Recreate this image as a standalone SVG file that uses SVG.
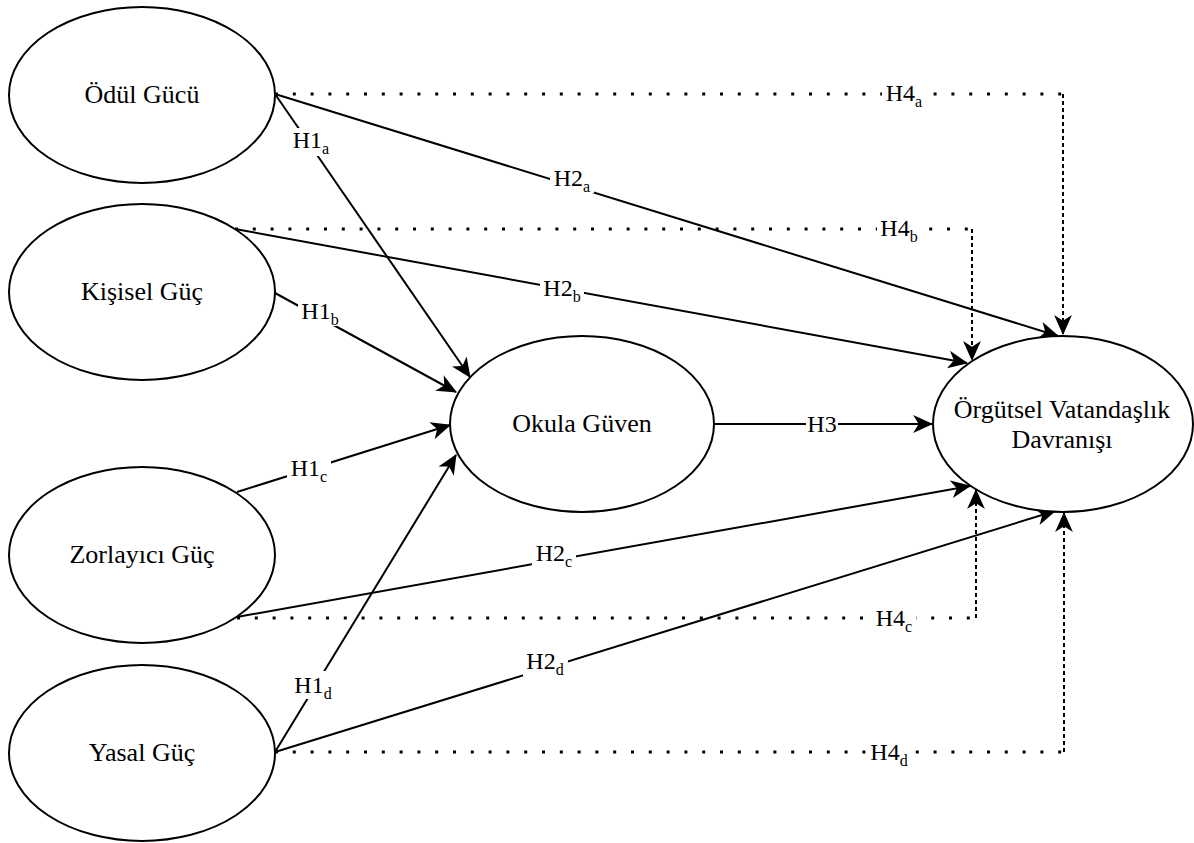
<svg xmlns="http://www.w3.org/2000/svg" width="1194" height="843" viewBox="0 0 1194 843">
<defs>
<style>
.node ellipse{fill:#fff;stroke:#000;stroke-width:2}
.node text{font-family:"Liberation Serif","Times New Roman",serif;font-size:26px;fill:#000;text-anchor:middle}
.solid{fill:none;stroke:#000;stroke-width:2;marker-end:url(#arr)}
.dot{fill:none;stroke:#000;stroke-width:3;stroke-dasharray:3 14.8}
.dash{fill:none;stroke:#000;stroke-width:2;stroke-dasharray:4 3;marker-end:url(#arr)}
.lbl rect{fill:#fff}
.lbl text{font-family:"Liberation Serif","Times New Roman",serif;font-size:24px;fill:#000;text-anchor:middle}
.sub{font-size:16px}
</style>
<marker id="arr" markerUnits="userSpaceOnUse" markerWidth="20" markerHeight="20" viewBox="0 0 18 16" refX="17" refY="8" orient="auto">
<path d="M0,0 L18,8 L0,16 L5,8 z" fill="#000"/>
</marker>
</defs>
<g id="connectors">
<path class="dot" d="M275,94 H1063"/>
<path class="dash" d="M1063,94 V334"/>
<path class="solid" d="M275,94 L1058,336"/>
<path class="solid" d="M275,94 L470,377"/>
<path class="dot" d="M235,229 H972"/>
<path class="dash" d="M972,229 V360"/>
<path class="solid" d="M235,229 L967,363"/>
<path class="solid" d="M275,293 L456,392"/>
<path class="solid" d="M237,492 L450,425"/>
<path class="solid" d="M237,617 L970,486"/>
<path class="dot" d="M237,618 H976"/>
<path class="dash" d="M976,618 V490"/>
<path class="solid" d="M275,752 L456,455"/>
<path class="solid" d="M275,752 L1055,511"/>
<path class="dot" d="M275,752 H1064"/>
<path class="dash" d="M1064,752 V513"/>
<path class="solid" d="M714,424 L932,424"/>
<g class="lbl">
<rect x="290" y="128" width="43" height="28"/><text x="311" y="148">H1<tspan class="sub" dy="6">a</tspan></text>
<rect x="298" y="298" width="44" height="28"/><text x="320" y="319">H1<tspan class="sub" dy="6">b</tspan></text>
<rect x="287" y="455" width="44" height="28"/><text x="309" y="476">H1<tspan class="sub" dy="6">c</tspan></text>
<rect x="291" y="671" width="44" height="28"/><text x="313" y="693">H1<tspan class="sub" dy="6">d</tspan></text>
<rect x="550" y="165" width="44" height="28"/><text x="572" y="186">H2<tspan class="sub" dy="6">a</tspan></text>
<rect x="540" y="275" width="44" height="28"/><text x="562" y="296">H2<tspan class="sub" dy="6">b</tspan></text>
<rect x="532" y="540" width="44" height="28"/><text x="554" y="561">H2<tspan class="sub" dy="6">c</tspan></text>
<rect x="523" y="648" width="45" height="28"/><text x="545" y="669">H2<tspan class="sub" dy="6">d</tspan></text>
<rect x="806" y="412" width="32" height="24"/><text x="822" y="432">H3</text>
<rect x="882" y="80" width="44" height="28"/><text x="904" y="101">H4<tspan class="sub" dy="6">a</tspan></text>
<rect x="877" y="215" width="44" height="28"/><text x="899" y="236">H4<tspan class="sub" dy="6">b</tspan></text>
<rect x="872" y="605" width="44" height="28"/><text x="894" y="626">H4<tspan class="sub" dy="6">c</tspan></text>
<rect x="867" y="739" width="44" height="28"/><text x="889" y="760">H4<tspan class="sub" dy="6">d</tspan></text>
</g>
</g>
<g id="odul" class="node"><ellipse cx="142" cy="95" rx="133" ry="88"/><text x="142" y="103">Ödül Gücü</text></g>
<g id="kisisel" class="node"><ellipse cx="142" cy="292" rx="133" ry="88"/><text x="142" y="300">Kişisel Güç</text></g>
<g id="zorlayici" class="node"><ellipse cx="142" cy="555" rx="133" ry="88"/><text x="142" y="563">Zorlayıcı Güç</text></g>
<g id="yasal" class="node"><ellipse cx="142" cy="753" rx="133" ry="88"/><text x="142" y="761">Yasal Güç</text></g>
<g id="okula" class="node"><ellipse cx="582" cy="424" rx="132" ry="88"/><text x="582" y="432">Okula Güven</text></g>
<g id="orgutsel" class="node"><ellipse cx="1063" cy="424" rx="130" ry="88"/><text x="1062" y="418">Örgütsel Vatandaşlık</text><text x="1062" y="448">Davranışı</text></g>
</svg>
